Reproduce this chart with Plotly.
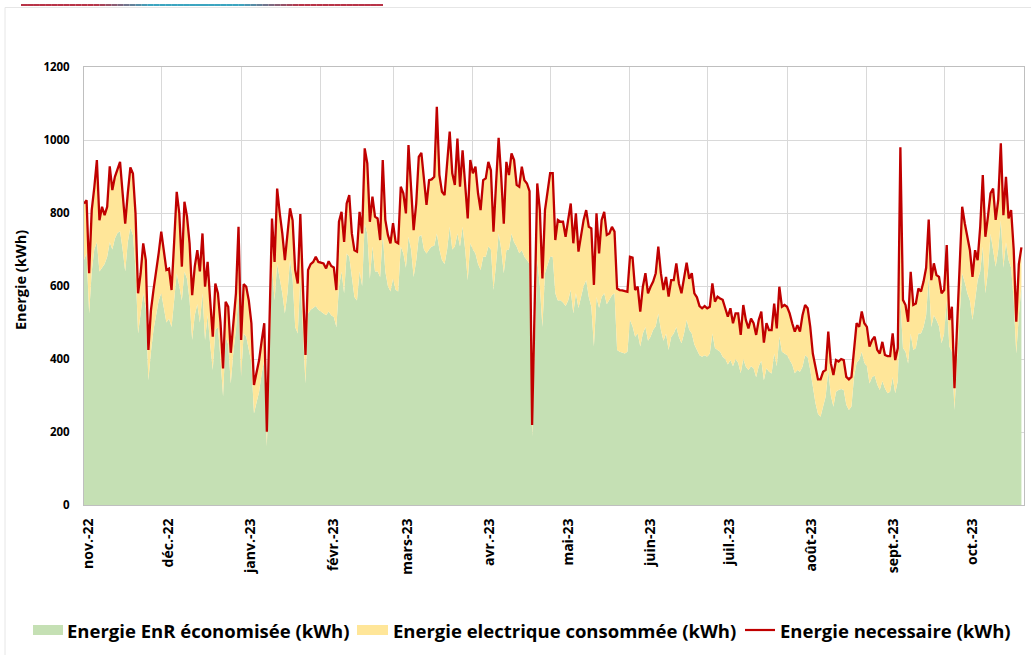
import pandas as pd
import plotly.graph_objects as go

# Daily values (1 Nov 2022 -> 31 Oct 2023)
energie_necessaire = [
    826, 835, 635, 808, 870, 945, 780, 817, 794, 817, 928, 863, 899, 917, 940, 854, 771, 854, 925, 908,
    799, 580, 635, 717, 671, 425, 534, 590, 635, 690, 749, 689, 644, 648, 589, 720, 858, 799, 653, 831,
    790, 717, 575, 653, 698, 640, 744, 598, 666, 560, 461, 607, 580, 500, 374, 557, 543, 417, 500, 580,
    762, 452, 605, 598, 560, 498, 329, 365, 397, 450, 498, 201, 480, 785, 666, 867, 800, 744, 671, 740,
    813, 780, 644, 607, 797, 600, 411, 644, 660, 666, 680, 666, 664, 662, 648, 668, 655, 651, 589, 776,
    803, 721, 826, 849, 744, 698, 694, 803, 744, 977, 936, 776, 845, 790, 785, 726, 945, 781, 740, 717,
    772, 721, 717, 872, 854, 799, 986, 881, 753, 826, 954, 965, 890, 822, 890, 892, 899, 1091, 904, 858,
    849, 940, 1023, 909, 877, 1004, 872, 972, 872, 785, 945, 909, 927, 854, 808, 890, 895, 940, 917, 749,
    880, 1006, 899, 771, 940, 904, 963, 945, 877, 872, 927, 890, 881, 860, 219, 600, 881, 808, 621, 808,
    854, 909, 909, 726, 781, 776, 776, 735, 781, 826, 717, 799, 694, 740, 781, 808, 762, 758, 603, 799,
    689, 781, 803, 740, 744, 762, 749, 593, 589, 588, 587, 584, 680, 678, 589, 598, 530, 598, 635, 580,
    598, 612, 635, 708, 635, 589, 625, 571, 616, 616, 662, 607, 580, 625, 664, 620, 635, 580, 569, 545,
    539, 545, 539, 543, 607, 557, 571, 566, 562, 539, 516, 539, 498, 525, 525, 466, 548, 507, 484, 511,
    498, 466, 507, 530, 445, 498, 479, 479, 552, 484, 598, 543, 548, 543, 525, 498, 475, 493, 475, 520,
    548, 539, 488, 415, 380, 344, 344, 365, 370, 475, 388, 356, 397, 393, 400, 397, 351, 344, 351, 429,
    498, 488, 530, 498, 488, 434, 452, 461, 425, 415, 447, 411, 408, 408, 470, 397, 430, 980, 562, 548,
    502, 639, 548, 552, 593, 585, 612, 650, 782, 616, 662, 630, 625, 580, 589, 712, 507, 543, 320, 488,
    653, 817, 772, 735, 698, 625, 698, 671, 762, 904, 735, 790, 854, 867, 781, 836, 991, 794, 899, 785,
    808, 700, 502, 660, 706,
]

energie_enr = [
    671, 690, 525, 640, 700, 720, 640, 650, 660, 680, 720, 700, 730, 745, 750, 700, 640, 720, 760, 740,
    650, 470, 520, 580, 540, 342, 420, 480, 520, 560, 580, 540, 500, 510, 488, 560, 635, 600, 560, 640,
    620, 560, 452, 520, 550, 500, 580, 452, 520, 440, 370, 480, 488, 400, 297, 461, 440, 333, 420, 480,
    580, 351, 470, 461, 430, 390, 251, 280, 310, 360, 397, 160, 400, 653, 560, 660, 620, 580, 525, 580,
    671, 620, 488, 470, 625, 470, 333, 525, 535, 540, 545, 535, 530, 525, 520, 530, 520, 515, 488, 598,
    640, 580, 689, 680, 625, 570, 560, 640, 600, 771, 744, 620, 708, 640, 640, 625, 744, 640, 600, 585,
    620, 590, 585, 708, 690, 650, 735, 700, 625, 670, 735, 740, 700, 689, 700, 708, 710, 744, 700, 671,
    660, 700, 762, 700, 708, 744, 708, 762, 700, 616, 717, 700, 689, 660, 644, 680, 680, 708, 700, 589,
    660, 744, 700, 635, 698, 700, 744, 720, 708, 690, 698, 680, 671, 660, 187, 450, 671, 600, 488, 635,
    660, 680, 680, 580, 560, 561, 555, 545, 560, 589, 525, 580, 540, 570, 600, 616, 570, 543, 434, 570,
    540, 570, 580, 550, 561, 575, 580, 425, 420, 418, 415, 420, 507, 490, 461, 470, 434, 470, 488, 450,
    461, 480, 490, 525, 480, 450, 470, 425, 460, 470, 488, 460, 443, 470, 507, 480, 470, 440, 425, 410,
    406, 410, 406, 415, 470, 430, 425, 420, 406, 400, 385, 397, 380, 400, 390, 361, 400, 379, 370, 380,
    375, 350, 380, 395, 342, 375, 365, 360, 415, 380, 461, 420, 415, 410, 397, 385, 361, 370, 365, 379,
    410, 405, 370, 320, 280, 250, 242, 270, 297, 370, 300, 269, 310, 315, 318, 315, 275, 260, 270, 351,
    390, 397, 420, 390, 380, 333, 350, 355, 330, 315, 340, 320, 306, 310, 350, 306, 340, 560, 430, 420,
    388, 470, 425, 430, 470, 470, 488, 520, 625, 488, 520, 507, 490, 443, 470, 561, 434, 420, 260, 397,
    530, 635, 610, 580, 560, 507, 560, 616, 640, 708, 580, 640, 744, 700, 653, 700, 780, 650, 720, 671,
    650, 560, 415, 520, 598,
]

month_starts = ["2022-11-01", "2022-12-01", "2023-01-01", "2023-02-01", "2023-03-01", "2023-04-01",
                "2023-05-01", "2023-06-01", "2023-07-01", "2023-08-01", "2023-09-01", "2023-10-01"]
month_labels = ["nov.-22", "déc.-22", "janv.-23", "févr.-23", "mars-23", "avr.-23",
                "mai-23", "juin-23", "juil.-23", "août-23", "sept.-23", "oct.-23"]

series_names = ["Energie EnR économisée (kWh)", "Energie electrique consommée (kWh)",
                "Energie necessaire (kWh)"]

dates = pd.date_range("2022-11-01", periods=len(energie_necessaire), freq="D")
energie_elec = [max(n - e, 0) for n, e in zip(energie_necessaire, energie_enr)]

FONT = "Open Sans"
GREEN = "#c5e0b4"
YELLOW = "#ffe699"
RED = "#c00000"

PL, PR, PT, PB = 84, 1024, 67, 505  # plot area in page pixels
# label anchor pixels along x (the source chart's labels drift right of gridlines)
LABEL_PX = [88, 168, 250, 333, 407, 489, 568, 650, 729, 811, 893, 972]

fig = go.Figure()
fig.add_trace(go.Scatter(
    x=dates, y=energie_enr, name=series_names[0],
    stackgroup="one", mode="lines", line=dict(width=0, color=GREEN),
    fillcolor=GREEN, showlegend=False,
))
fig.add_trace(go.Scatter(
    x=dates, y=energie_elec, name=series_names[1],
    stackgroup="one", mode="lines", line=dict(width=0, color=YELLOW),
    fillcolor=YELLOW, showlegend=False,
))
fig.add_trace(go.Scatter(
    x=dates, y=energie_necessaire, name=series_names[2],
    mode="lines", line=dict(width=2.3, color=RED), showlegend=False,
))

day_px = (PR - PL) / 365.0
label_pos = [pd.Timestamp("2022-11-01") + pd.Timedelta(days=(p - PL) / day_px) for p in LABEL_PX]

fig.update_layout(
    width=1031, height=655,
    margin=dict(l=PL, r=1031 - PR, t=PT, b=655 - PB),
    paper_bgcolor="white", plot_bgcolor="white",
    font=dict(family=FONT, color="#000000"),
    showlegend=False,
    xaxis=dict(
        type="date",
        range=["2022-11-01", "2023-11-01"],
        tickvals=label_pos, ticktext=month_labels,
        tickangle=-90, showgrid=False,
        ticks="", ticklabelstandoff=7,
        tickfont=dict(family=FONT, size=14, weight="bold", color="#000000"),
        minor=dict(tickvals=month_starts, showgrid=True, gridcolor="#d9d9d9", gridwidth=1),
        showline=True, linecolor="#bfbfbf", linewidth=1, mirror=True,
        zeroline=False,
    ),
    yaxis=dict(
        range=[0, 1200], dtick=200, tick0=0,
        showgrid=True, gridcolor="#d9d9d9", gridwidth=1,
        ticks="", ticklabelstandoff=11,
        tickfont=dict(family=FONT, size=11.5, weight="bold", color="#000000"),
        showline=True, linecolor="#bfbfbf", linewidth=1, mirror=True,
        zeroline=False,
    ),
)

def px_to_paper_x(px):
    return (px - PL) / float(PR - PL)

def py_to_paper_y(py):
    return (PB - py) / float(PB - PT)

# y-axis title placed as annotation
fig.add_annotation(
    text="Energie (kWh)", xref="paper", yref="paper",
    x=px_to_paper_x(20), y=py_to_paper_y(280), textangle=-90,
    showarrow=False, xanchor="center", yanchor="middle",
    font=dict(family=FONT, size=14.5, weight="bold", color="#000000"),
)

# legend drawn by hand (swatches + texts)
LEG_Y = 630
leg_items = [
    ("rect", GREEN, 33, 63, 65),
    ("rect", YELLOW, 357, 388, 391),
    ("line", RED, 745, 775, 778),
]
for (kind, col, sx0, sx1, tx), name in zip(leg_items, series_names):
    if kind == "rect":
        fig.add_shape(type="rect", xref="paper", yref="paper",
                      x0=px_to_paper_x(sx0), x1=px_to_paper_x(sx1),
                      y0=py_to_paper_y(LEG_Y + 5), y1=py_to_paper_y(LEG_Y - 5),
                      fillcolor=col, line=dict(width=0))
    else:
        fig.add_shape(type="line", xref="paper", yref="paper",
                      x0=px_to_paper_x(sx0), x1=px_to_paper_x(sx1),
                      y0=py_to_paper_y(LEG_Y), y1=py_to_paper_y(LEG_Y),
                      line=dict(color=col, width=2.2))
    fig.add_annotation(
        text=name, xref="paper", yref="paper",
        x=px_to_paper_x(tx), y=py_to_paper_y(LEG_Y),
        showarrow=False, xanchor="left", yanchor="middle",
        font=dict(family=FONT, size=18.5, weight="bold", color="#000000"),
    )

# decorative top rule (gradient red -> teal -> red)
stops = [(21, (184, 52, 72)), (95, (184, 52, 72)), (150, (60, 165, 192)),
         (240, (60, 165, 192)), (300, (184, 52, 72)), (383, (184, 52, 72))]

def color_at(px):
    for (xa, ca), (xb, cb) in zip(stops[:-1], stops[1:]):
        if xa <= px <= xb:
            t = (px - xa) / float(xb - xa)
            return tuple(int(round(a + (b - a) * t)) for a, b in zip(ca, cb))
    return stops[-1][1]

n = 60
x0, x1 = 21, 383
for i in range(n):
    xa = x0 + (x1 - x0) * i / n
    xb = x0 + (x1 - x0) * (i + 1) / n
    c = color_at((xa + xb) / 2)
    fig.add_shape(type="line", xref="paper", yref="paper",
                  x0=px_to_paper_x(xa), x1=px_to_paper_x(xb),
                  y0=py_to_paper_y(5), y1=py_to_paper_y(5),
                  line=dict(color="rgb(%d,%d,%d)" % c, width=2), layer="above")

# faint chart frame (top and left edges)
fig.add_shape(type="line", xref="paper", yref="paper",
              x0=px_to_paper_x(5), x1=px_to_paper_x(1031),
              y0=py_to_paper_y(7.5), y1=py_to_paper_y(7.5),
              line=dict(color="#e6e6e6", width=1))
fig.add_shape(type="line", xref="paper", yref="paper",
              x0=px_to_paper_x(5), x1=px_to_paper_x(5),
              y0=py_to_paper_y(7.5), y1=py_to_paper_y(655),
              line=dict(color="#e6e6e6", width=1))

fig.write_html("out.html", config={"displayModeBar": False},
               post_script="document.body.style.margin='0px';document.body.style.overflow='hidden';")
